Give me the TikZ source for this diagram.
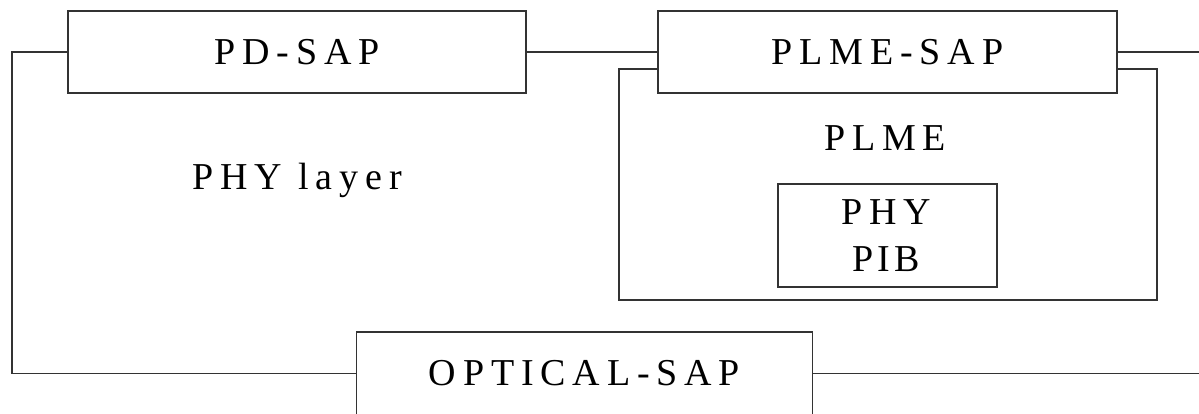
\documentclass[tikz,border=0pt]{standalone}
\usepackage{fontspec}
\setmainfont{Liberation Serif}
\begin{document}
\begin{tikzpicture}[x=1pt,y=-1pt,
  line width=1.6pt, draw=black!80,
  box/.style={draw=black!80, fill=white, rectangle, inner sep=0pt},
  lbl/.style={font=\fontsize{38}{47}\selectfont\addfontfeatures{LetterSpace=18}, text=black, inner sep=0pt, align=center}]
\useasboundingbox (0,0) rectangle (1199,413);
\clip (0,0) rectangle (1199,413);
% PLME outer box (drawn first, partly covered)
\node[box, minimum width=538pt, minimum height=231pt] (plme) at (888,184.5) {};
\node[lbl] (plmetxt) at (885,138) {PLME};
\node[box, minimum width=219pt, minimum height=103pt] (pib) at (887.5,235.5) {};
\node[lbl] (pibtxt) at (886,235.5) {PHY\\{\addfontfeatures{LetterSpace=10}PIB}};
% SAP boxes
\node[box, minimum width=458pt, minimum height=82pt, lbl] (pdsap) at (297,52) {PD-SAP};
\node[box, minimum width=459pt, minimum height=82pt, lbl] (plmesap) at (887.5,52) {PLME-SAP};
\node[box, minimum width=456pt, minimum height=83pt, lbl] (optical) at (584.5,373.5) {OPTICAL-SAP};
\node[lbl] (phylayer) at (297,180) {PHY layer};
% connectors
\coordinate (lc) at (12,52);
\coordinate (re1) at (1199,52);
\coordinate (re2) at (1199,373.5);
\draw (pdsap.west) -- (lc) |- (optical.west);
\draw (pdsap.east) -- (plmesap.west);
\draw (plmesap.east) -- (re1);
\draw (optical.east) -- (re2);
\end{tikzpicture}
\end{document}
